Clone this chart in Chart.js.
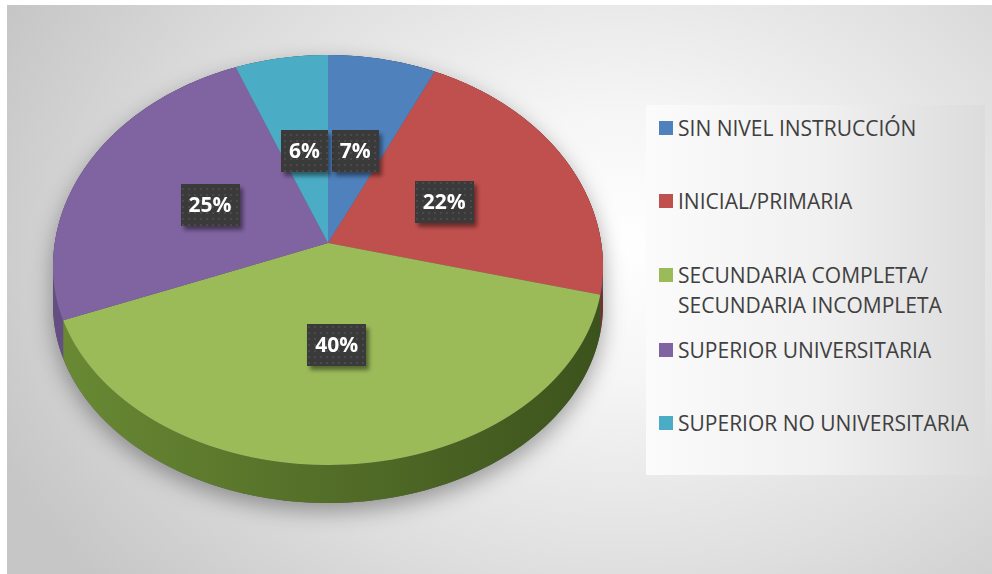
<!DOCTYPE html>
<html>
<head>
<meta charset="utf-8">
<script src="https://cdn.jsdelivr.net/npm/chart.js@4.4.1/dist/chart.umd.min.js"></script>
<style>
    body { margin: 0; background: #fff; width: 992px; height: 574px; overflow: hidden; position: relative; }
    #frame {
        position: absolute; left: 7px; top: 5px; width: 985px; height: 569px;
        background: radial-gradient(ellipse 680px 520px at 610px 240px, #ffffff 0%, #f6f6f6 25%, #dedede 65%, #c6c6c6 100%);
    }
    #pieChart { position: absolute; left: 0; top: 0; }
    #legend {
        position: absolute; left: 646px; top: 105px; width: 339px; height: 370px;
        background: linear-gradient(to right, #fbfbfb, #f1f1f1 50%, #dcdcdc);
    }
    .legend-item { position: absolute; left: 13px; font-family: "Open Sans", sans-serif; font-size: 21px; line-height: 30px; color: #404040; white-space: pre; }
    .legend-item .box { position: absolute; left: 0; top: 8px; width: 14px; height: 14px; }
    .legend-item .text { margin-left: 19px; display: block; }
</style>
</head>
<body>
<div id="frame"></div>
<div id="legend"></div>
<canvas id="pieChart" width="992" height="574"></canvas>
<script>
// Nivel de instrucción (porcentajes)
const categories = ['SIN NIVEL INSTRUCCIÓN', 'INICIAL/PRIMARIA', 'SECUNDARIA COMPLETA/\nSECUNDARIA INCOMPLETA', 'SUPERIOR UNIVERSITARIA', 'SUPERIOR NO UNIVERSITARIA'];
const percentages = [7, 22, 40, 25, 6];
const sliceColors = ['#4f81bd', '#c0504d', '#9bbb59', '#8064a2', '#4bacc6'];
const sideColorsLight = ['#3d6493', '#9a3f3d', '#6a8a34', '#654e82', '#3a8aa0'];
const sideColorsDark = ['#2c4a70', '#72302e', '#3c521c', '#4a3a61', '#2a6677'];

// Fake 3D tilt of the pie's top face
const CX = 328, CY = 243;           // where the slices meet on screen
const PY = 203.6, PERSP = 0.0829;   // vertical perspective (back 188px, front 222px)
const RX = 275, WIDE_DY = 24, RY_TOP = 212, RY_BOT = 198;  // outline of the top face
const DEPTH = 38;
const LABEL_RADIUS = 0.48;

document.addEventListener('DOMContentLoaded', function() {
    buildLegend();
    initializePieChart();
});

function buildLegend() {
    const legend = document.getElementById('legend');
    const tops = [8, 81, 155, 230, 303];
    categories.forEach((label, i) => {
        const item = document.createElement('div');
        item.className = 'legend-item';
        item.style.top = tops[i] + 'px';
        item.innerHTML = '<span class="box" style="background:' + sliceColors[i] + '"></span><span class="text"></span>';
        item.querySelector('.text').textContent = label;
        legend.appendChild(item);
    });
}

// v: -1 (back) .. 1 (front) -> screen offset from CY
function offsetY(v) {
    return PY * v / (1 - PERSP * v);
}

function halfWidth(dy) {
    const e = dy - WIDE_DY;
    const ry = e < 0 ? RY_TOP : RY_BOT;
    return RX * Math.sqrt(Math.max(0, 1 - (e / ry) * (e / ry)));
}

// horizontal pixels per unit of u at depth v
function scaleX(v) {
    v = Math.max(-0.9999, Math.min(0.9999, v));
    return halfWidth(offsetY(v)) / Math.sqrt(1 - v * v);
}

function project(u, v) {
    return { x: CX + scaleX(v) * u, y: CY + offsetY(v) };
}

const tiltedPie = {
    id: 'tiltedPie',
    beforeDatasetsDraw(chart) {
        const ctx = chart.ctx;
        const meta = chart.getDatasetMeta(0);
        const a0 = meta.data[0];
        const r = a0.outerRadius;
        const step = Math.PI / 180;

        // soft shadow under the pie (silhouette of top face + wall)
        ctx.save();
        ctx.shadowColor = 'rgba(0,0,0,0.35)';
        ctx.shadowBlur = 22;
        ctx.shadowOffsetY = 8;
        ctx.fillStyle = '#556';
        ctx.beginPath();
        for (let t = 0; t <= Math.PI * 2 + step / 2; t += step) {
            const p = project(Math.cos(t), Math.sin(t));
            ctx.lineTo(p.x, p.y + (p.y - CY > WIDE_DY ? DEPTH : 0));
        }
        ctx.closePath();
        ctx.fill();
        ctx.restore();

        // side wall of every slice
        meta.data.forEach((a, i) => {
            const g = ctx.createLinearGradient(CX - RX, 0, CX + RX, 0);
            g.addColorStop(0, sideColorsLight[i]);
            g.addColorStop(1, sideColorsDark[i]);
            const pts = [];
            for (let t = a.startAngle; t < a.endAngle; t += step) pts.push(project(Math.cos(t), Math.sin(t)));
            pts.push(project(Math.cos(a.endAngle), Math.sin(a.endAngle)));
            ctx.beginPath();
            pts.forEach(p => ctx.lineTo(p.x, p.y));
            for (let j = pts.length - 1; j >= 0; j--) ctx.lineTo(pts[j].x, pts[j].y + DEPTH);
            ctx.closePath();
            ctx.fillStyle = g;
            ctx.fill();
        });

        // top face: Chart.js arcs drawn row by row through a local affine map
        const yTop = Math.floor(CY + offsetY(-1)) - 1;
        const yBot = Math.ceil(CY + offsetY(1)) + 1;
        for (let y = yTop; y < yBot; y++) {
            const dy = y + 0.5 - CY;
            const v = dy / (PY + PERSP * dy);
            const w = 1 - PERSP * v;
            const kx = scaleX(v) / r;
            const ky = PY / (w * w * r);
            ctx.save();
            ctx.beginPath();
            ctx.rect(0, y, chart.width, 1);
            ctx.clip();
            ctx.translate(CX, y + 0.5);
            ctx.scale(kx, ky);
            ctx.translate(-a0.x, -(a0.y + v * r));
            meta.controller.draw();
            ctx.restore();
        }
        return false;
    },
    afterDraw(chart) {
        const ctx = chart.ctx;
        const meta = chart.getDatasetMeta(0);
        const dots = document.createElement('canvas');
        dots.width = 6; dots.height = 6;
        const dctx = dots.getContext('2d');
        dctx.fillStyle = '#3a3a3a';
        dctx.fillRect(0, 0, 6, 6);
        dctx.fillStyle = '#4a4a4a';
        dctx.fillRect(2, 2, 2, 2);
        const pattern = ctx.createPattern(dots, 'repeat');

        ctx.save();
        ctx.font = 'bold 21px "Open Sans", sans-serif';
        ctx.textAlign = 'center';
        ctx.textBaseline = 'middle';
        meta.data.forEach((a, i) => {
            const mid = (a.startAngle + a.endAngle) / 2;
            const p = project(Math.cos(mid) * LABEL_RADIUS, Math.sin(mid) * LABEL_RADIUS);
            const text = percentages[i] + '%';
            const w = ctx.measureText(text).width + 16;
            const h = 42;
            ctx.save();
            ctx.shadowColor = 'rgba(0,0,0,0.45)';
            ctx.shadowBlur = 4;
            ctx.shadowOffsetX = 3;
            ctx.shadowOffsetY = 4;
            ctx.fillStyle = pattern;
            ctx.fillRect(Math.round(p.x - w / 2), Math.round(p.y - h / 2), Math.round(w), h);
            ctx.restore();
            ctx.fillStyle = '#ffffff';
            ctx.fillText(text, p.x, p.y + 1);
        });
        ctx.restore();
    }
};

function initializePieChart() {
    const ctx = document.getElementById('pieChart');
    new Chart(ctx, {
        type: 'pie',
        data: {
            labels: categories,
            datasets: [{
                data: percentages,
                backgroundColor: sliceColors,
                borderWidth: 0,
                hoverBorderWidth: 0,
                hoverOffset: 0
            }]
        },
        options: {
            responsive: false,
            animation: false,
            events: [],
            layout: {
                padding: { left: 56, right: 392, top: 15, bottom: 15 }
            },
            plugins: {
                legend: { display: false },
                tooltip: { enabled: false }
            }
        },
        plugins: [tiltedPie]
    });
}
</script>
</body>
</html>
